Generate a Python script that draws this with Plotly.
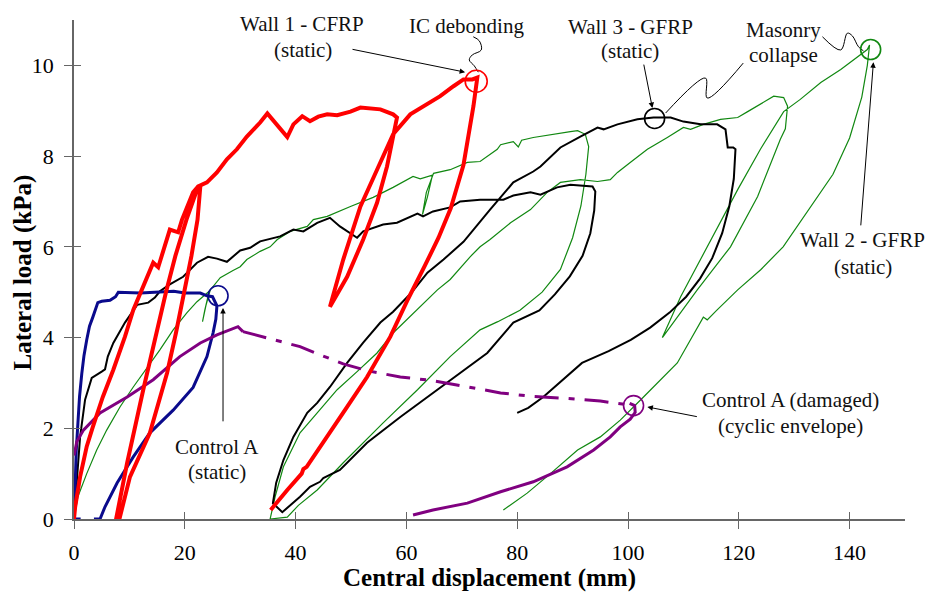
import plotly.graph_objects as go

FONT = "Liberation Serif, Times New Roman, serif"

# ---------------- data ----------------
# Wall 1 - CFRP (static), red
wall1_x = [0, 0.2, 1.1, 2.3, 3.4, 5.2, 7.1, 9.2, 10.7, 12.2, 14.3, 15.2, 17.3, 18.8, 19.5, 21.5, 22.4,
           22.8, 22.3, 21.2, 20.0, 18.4, 16.8, 13.7, 10.1, 8.2, 7.6,
           9.6, 12.5, 14.8, 16.6, 18.3, 20.3, 22.4,
           24.0, 25.8, 27.6, 29.4, 31.2, 33.6, 34.9, 38.5, 39.6, 41.2, 42.6, 44.1, 45.7, 47.5, 49.9, 51.7, 55.3, 57.6, 58.3,
           57.6, 56.5, 54.7, 52.2, 49.3, 46.2,
           48.6, 51.7, 54.7, 57.6, 60.7, 63.0, 66.1, 68.5, 70.3, 71.9, 72.8,
           72.1, 70.3, 68.0, 65.8, 63.2, 60.3, 57.1, 52.9, 49.3, 45.7, 42.0, 41.4, 41.1, 38.5, 35.8, 35.5]
wall1_y = [0, 0.26, 0.93, 1.6, 2.03, 2.69, 3.29, 4.02, 4.61, 5.05, 5.65, 5.55, 6.38, 6.32, 6.6, 7.2, 7.33,
           7.33, 6.6, 5.8, 5.05, 4.1, 3.22, 1.9, 0.93, 0.0, 0.0,
           1.24, 2.85, 4.1, 5.0, 5.8, 6.6, 7.33,
           7.42, 7.64, 7.93, 8.15, 8.43, 8.74, 8.94, 8.42, 8.7, 8.88, 8.77, 8.87, 8.92, 8.9, 8.98, 9.07, 9.03, 8.92, 8.85,
           8.43, 7.77, 6.97, 6.16, 5.34, 4.68,
           5.72, 6.89, 7.7, 8.48, 8.92, 9.1, 9.32, 9.54, 9.69, 9.69, 9.73,
           9.1, 7.8, 6.85, 6.2, 5.55, 4.85, 4.02, 3.13, 2.47, 1.81, 1.15, 1.1, 1.0, 0.64, 0.26, 0.2]

# Wall 3 - GFRP (static), black
wall3_x = [0, 0.5, 1.1, 2.0, 3.2, 5.0, 5.6, 6.1, 7.1, 9.2, 11.4, 13.4, 14.6, 15.5, 17.3, 19.7, 20.4, 22.2, 24.2, 25.8,
           27.6, 30.0, 31.8, 33.6, 37.2, 39.6, 41.4, 43.9, 46.2, 48.0, 51.1, 52.2, 55.8, 58.3, 62.0, 63.0, 64.8, 67.9,
           69.7, 73.3, 75.1, 77.5, 79.3, 82.4, 84.2, 87.2, 89.6, 91.9, 93.6, 94.1,
           93.9, 93.2, 91.8, 89.5, 86.8, 84.0, 79.3, 74.6, 69.7, 64.8, 58.9, 52.9, 48.0, 45.0, 44.4, 42.6, 40.8, 37.6, 35.9,
           36.5, 37.8, 39.6, 42.1, 43.9, 46.2, 49.3, 52.2, 55.3, 57.6, 60.2, 61.0, 63.8, 66.7, 70.3, 73.3, 75.1, 79.3,
           82.9, 84.2, 87.8, 91.4, 94.5, 95.6, 98.1, 101.7, 104.6, 107.7, 110.0, 113.1, 116.1, 117.6, 118.0, 119.0, 119.4,
           119.1, 118.3, 117.0, 115.2, 113.0, 110.5, 107.5, 104.0, 100.5, 96.5, 91.7, 88.0, 84.7, 82.0, 80.0]
wall3_y = [0, 0.93, 1.81, 2.63, 3.11, 3.25, 3.3, 3.58, 3.88, 4.33, 4.72, 4.77, 4.88, 5.02, 5.17, 5.34, 5.43, 5.65, 5.78, 5.74,
           5.67, 5.92, 5.98, 6.12, 6.23, 6.38, 6.34, 6.53, 6.64, 6.45, 6.2, 6.34, 6.49, 6.53, 6.73, 6.67, 6.78, 6.87,
           7.0, 7.04, 7.04, 7.04, 7.13, 7.2, 7.15, 7.31, 7.37, 7.35, 7.33, 7.22,
           6.8, 6.3, 5.8, 5.35, 4.95, 4.6, 4.33, 3.66, 3.22, 2.78, 2.25, 1.68, 1.08, 0.9, 0.82, 0.71, 0.49, 0.15, 0.35,
           0.8, 1.3, 1.81, 2.34, 2.56, 2.91, 3.44, 3.89, 4.33, 4.57, 4.9, 5.0, 5.43, 5.72, 6.11, 6.56, 6.82, 7.42,
           7.66, 7.77, 8.19, 8.43, 8.63, 8.59, 8.7, 8.81, 8.85, 8.85, 8.76, 8.7, 8.7, 8.59, 8.19, 8.19, 8.15,
           7.5, 6.9, 6.3, 5.75, 5.3, 4.9, 4.55, 4.22, 3.95, 3.7, 3.44, 3.05, 2.69, 2.45, 2.34]

# Wall 2 - GFRP (static), green
wall2_x = [0, 0.7, 2.3, 4.1, 5.9, 8.3, 10.7, 13.2, 15.5, 17.9, 20.4, 22.2, 23.3, 24.4, 23.6, 23.2, 23.8, 24.6, 25.1,
           26.4, 28.7, 30.0, 31.2, 33.6, 35.4, 36.7, 39.0, 39.6, 42.1, 43.2, 45.7, 49.9, 54.0, 57.6, 61.2, 62.5, 64.7,
           63.8, 62.9, 63.6, 64.9, 67.9, 71.0, 73.3, 76.4, 77.0, 79.3, 80.2, 80.8, 82.9, 86.5, 87.8, 89.6, 90.9, 92.3, 92.9,
           92.4, 91.5, 90.0, 87.8, 84.5, 80.5, 76.5, 73.3, 67.9, 62.0, 55.8, 48.6, 43.9, 40.5, 38.5, 35.4,
           36.3, 37.8, 40.8, 43.9, 47.5, 51.1, 54.7, 57.6, 60.7, 63.8, 65.6, 67.9, 71.5, 73.3, 75.1, 78.8, 82.4, 85.4,
           87.8, 91.4, 94.5, 96.8, 98.1, 100.4, 103.5, 107.1, 110.0, 111.3, 113.6, 116.7, 119.8, 121.6, 125.2, 126.3, 128.1, 128.8,
           128.4, 127.5, 123.4, 118.5, 112.5, 108.9, 106.2,
           109.5, 114.3, 119.8, 123.9, 128.1, 131.1, 134.8, 138.4, 140.7, 143.2, 143.6,
           143.2, 142.2, 140.0, 137.0, 133.0, 128.0, 124.0, 119.8, 116.0, 114.3, 113.6, 108.9, 102.8, 98.6, 95.0, 90.9, 86.0, 81.8, 77.5]
wall2_y = [0, 0.49, 1.0, 1.52, 1.96, 2.47, 2.91, 3.33, 3.73, 4.17, 4.55, 4.79, 4.9, 5.02, 4.6, 4.35, 4.7, 5.05, 5.12,
           5.32, 5.48, 5.56, 5.72, 5.9, 6.0, 6.16, 6.34, 6.36, 6.45, 6.6, 6.67, 6.89, 7.09, 7.31, 7.55, 7.5, 7.58,
           7.1, 6.71, 7.2, 7.62, 7.7, 7.86, 7.88, 8.15, 8.25, 8.32, 8.2, 8.35, 8.41, 8.48, 8.52, 8.54, 8.56, 8.48, 8.21,
           7.6, 6.9, 6.2, 5.5, 5.0, 4.6, 4.35, 4.17, 3.58, 2.85, 2.12, 1.24, 0.64, 0.3, 0.04, 0.0,
           0.49, 1.15, 1.9, 2.34, 2.85, 3.25, 3.66, 4.1, 4.46, 4.83, 5.05, 5.28, 5.78, 6.0, 6.16, 6.53, 6.82, 7.2,
           7.42, 7.48, 7.44, 7.48, 7.64, 7.86, 8.15, 8.41, 8.63, 8.59, 8.7, 8.81, 8.85, 8.98, 9.25, 9.32, 9.29, 9.1,
           8.6, 8.37, 7.11, 6.0, 5.05, 4.46, 4.0,
           4.9, 6.0, 7.26, 8.15, 8.98, 9.25, 9.62, 9.91, 10.13, 10.35, 10.45,
           10.0, 9.3, 8.4, 7.6, 6.9, 6.0, 5.5, 5.05, 4.6, 4.39, 4.45, 3.44, 2.69, 2.18, 1.81, 1.52, 1.0, 0.57, 0.2]

# Control A (static), navy
ctrl_x = [1.2, 0, 0.1, 0.2, 0.4, 0.7, 1.0, 1.4, 1.8, 2.3, 2.8, 3.4, 4.3, 5.0, 6.5, 7.5, 8.0, 12.0, 16.0, 18.0, 20.0,
          22.8, 24.0, 25.0, 25.8, 25.6, 25.1, 24.0, 21.5, 17.9, 13.7, 10.7, 7.8, 5.6, 4.7, 3.6]
ctrl_y = [0, 0, 0.3, 0.8, 1.5, 2.1, 2.7, 3.2, 3.6, 3.95, 4.25, 4.45, 4.77, 4.8, 4.82, 4.9, 5.0, 4.98, 5.0, 5.02, 4.98,
          4.98, 4.92, 4.9, 4.7, 4.4, 4.1, 3.58, 2.9, 2.4, 1.9, 1.37, 0.8, 0.27, 0.0, 0.0]

# Control A (damaged) cyclic envelope, purple
env_x = [0, 0.5, 1.7, 4.7, 9.6, 14.3, 19.1, 22.8, 25.8, 28.7, 29.6, 30.5]
env_y = [1.4, 1.7, 1.96, 2.34, 2.69, 3.07, 3.58, 3.88, 4.06, 4.19, 4.24, 4.13]
env_dash_x = [30.5, 35.0, 40.8, 44.4, 48.6, 52.9, 58.9, 64.8, 71.0, 77.0, 82.9, 89.0, 95.0, 101.0]
env_dash_y = [4.13, 3.98, 3.8, 3.62, 3.42, 3.27, 3.13, 3.05, 2.91, 2.78, 2.7, 2.66, 2.6, 2.5]
dmg_x = [61.2, 64.8, 71.0, 77.0, 82.9, 89.0, 93.8, 96.8, 98.6, 100.4, 101.3, 101.2, 100.3]
dmg_y = [0.09, 0.2, 0.35, 0.6, 0.82, 1.15, 1.52, 1.81, 2.03, 2.2, 2.35, 2.5, 2.55]

# marked events (circle centres)
events = {
    "ic_debonding": (72.6, 9.65, "#ff0000"),
    "wall2_collapse": (143.8, 10.35, "#118811"),
    "wall3_collapse": (104.8, 8.83, "#000000"),
    "ctrl_static": (26.0, 4.92, "#0a0a8c"),
    "ctrl_damaged": (101.0, 2.5, "#800080"),
}

x_ticks = [0, 20, 40, 60, 80, 100, 120, 140]
y_ticks = [0, 2, 4, 6, 8, 10]

# ---------------- figure ----------------
fig = go.Figure()


def add(x, y, color, width, dash="solid"):
    fig.add_trace(go.Scatter(x=x, y=y, mode="lines", line=dict(color=color, width=width, dash=dash),
                             hoverinfo="skip", showlegend=False))


add(wall2_x, wall2_y, "#118811", 1.2)
add(wall3_x, wall3_y, "#000000", 2)
add(ctrl_x, ctrl_y, "#0a0a8c", 3)
add(env_x, env_y, "#800080", 3)
add(env_dash_x, env_dash_y, "#800080", 3, "24px,10px,6px,10px")
add(dmg_x, dmg_y, "#800080", 3)
add(wall1_x, wall1_y, "#ff0000", 4)

# connector squiggles (annotation leader lines)
leaders = [
    ([72.07, 73.16, 73.52, 71.89, 71.35, 72.25, 72.98], [10.63, 10.54, 10.34, 10.23, 10.12, 9.99, 9.85]),
    ([135.1, 138.4, 139.6, 140.5, 141.6, 142.5], [10.63, 10.34, 10.71, 10.65, 10.41, 10.32]),
    ([106.8, 114.0, 114.3, 120.8], [8.95, 9.72, 9.28, 10.05]),
]
for lx, ly in leaders:
    fig.add_trace(go.Scatter(x=lx, y=ly, mode="lines", line=dict(color="#000000", width=1),
                             hoverinfo="skip", showlegend=False, line_shape="spline"))

# inside halves of the crossing ticks
fig.add_trace(go.Scatter(x=[], y=[], xaxis="x2", yaxis="y2", showlegend=False))

shapes = []
for name, (cx, cy, col) in events.items():
    r = 11 if name == "ic_debonding" else 10
    shapes.append(dict(type="circle", xref="x", yref="y", xsizemode="pixel", ysizemode="pixel",
                       xanchor=cx, yanchor=cy, x0=-r, x1=r, y0=-r, y1=r,
                       line=dict(color=col, width=1.6)))

texts = [
    ("Wall 1 - CFRP", 41.2, 10.91), ("(static)", 41.4, 10.34),
    ("IC debonding", 70.8, 10.87),
    ("Wall 3 - GFRP", 100.4, 10.85), ("(static)", 100.4, 10.32),
    ("Masonry", 128.1, 10.78), ("collapse", 128.1, 10.23),
    ("Wall 2 - GFRP", 142.3, 6.15), ("(static)", 142.5, 5.56),
    ("Control A", 25.8, 1.59), ("(static)", 25.8, 1.04),
    ("Control A (damaged)", 129.3, 2.62), ("(cyclic envelope)", 129.3, 2.05),
]
annotations = []
for t, x, y in texts:
    annotations.append(dict(text=t, x=x, y=y, xref="x", yref="y", showarrow=False,
                            font=dict(family=FONT, size=21, color="#111111"),
                            xanchor="center", yanchor="middle"))

arrows = [  # head (x, y), tail (x, y)
    (70.6, 9.85, 50.0, 10.36),
    (104.4, 9.06, 102.8, 10.05),
    (144.3, 10.07, 142.0, 6.44),
    (26.9, 4.65, 26.9, 2.12),
    (103.5, 2.47, 112.7, 2.25),
]
for hx, hy, tx, ty in arrows:
    annotations.append(dict(text="", x=hx, y=hy, ax=tx, ay=ty, xref="x", yref="y", axref="x", ayref="y",
                            showarrow=True, arrowhead=2, arrowsize=1.1, arrowwidth=1, arrowcolor="#000000",
                            standoff=0, startstandoff=0))

# axis titles
annotations.append(dict(text="<b>Central displacement (mm)</b>", xref="paper", yref="paper", x=0.5, y=0,
                        yshift=-59, showarrow=False, xanchor="center", yanchor="middle",
                        font=dict(family=FONT, size=25, color="#000000")))
annotations.append(dict(text="<b>Lateral load (kPa)</b>", xref="paper", yref="paper", x=0, y=0.5,
                        xshift=-52, yshift=-3, showarrow=False, textangle=-90, xanchor="center", yanchor="middle",
                        font=dict(family=FONT, size=25, color="#000000")))

axis_col = "#666666"
fig.update_layout(
    width=931, height=592,
    margin=dict(l=74, r=26, t=20, b=73),
    paper_bgcolor="white", plot_bgcolor="white",
    showlegend=False,
    shapes=shapes,
    annotations=annotations,
    xaxis=dict(range=[0, 150], tickvals=x_ticks, ticks="outside", ticklen=8, tickcolor=axis_col, tickwidth=1,
               showline=True, linecolor=axis_col, linewidth=1.5, showgrid=False, zeroline=False,
               tickfont=dict(family=FONT, size=22, color="#000000"), ticklabelstandoff=5),
    yaxis=dict(range=[0, 11], tickvals=y_ticks, ticks="outside", ticklen=8, tickcolor=axis_col, tickwidth=1,
               showline=True, linecolor=axis_col, linewidth=1.5, showgrid=False, zeroline=False,
               tickfont=dict(family=FONT, size=22, color="#000000"), ticklabelstandoff=6),
    xaxis2=dict(range=[0, 150], tickvals=x_ticks, ticks="inside", ticklen=7, tickcolor=axis_col, tickwidth=1,
                overlaying="x", anchor="y", side="bottom", showticklabels=False, showline=False,
                showgrid=False, zeroline=False),
    yaxis2=dict(range=[0, 11], tickvals=y_ticks, ticks="inside", ticklen=7, tickcolor=axis_col, tickwidth=1,
                overlaying="y", anchor="x", side="left", showticklabels=False, showline=False,
                showgrid=False, zeroline=False),
)

fig.write_html("out.html", config={"displayModeBar": False},
               post_script="document.body.style.margin='0';document.body.style.overflow='hidden';")
